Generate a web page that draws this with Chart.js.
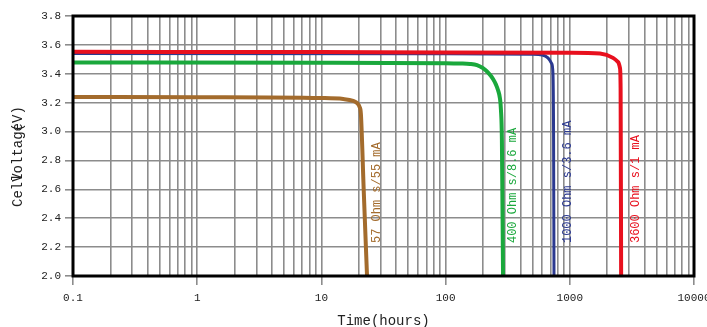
<!DOCTYPE html>
<html lang="en">
<head>
  <meta charset="UTF-8" />
  <title>Cell voltage vs time</title>
  <script src="https://cdn.jsdelivr.net/npm/chart.js"></script>
  <style>
    html, body { margin: 0; padding: 0; background: #fff; }
    #wrap { width: 707px; height: 327px; }
  </style>
</head>
<body>
  <div id="wrap"><canvas id="cellChart"></canvas></div>

  <script>
    // Discharge curves
    const brownX = [0.1, 1, 10, 15, 18, 19.5, 20.3, 20.8, 21.9, 23.3];
    const brownY = [3.24, 3.238, 3.232, 3.225, 3.212, 3.195, 3.17, 3.12, 2.6, 2.0];

    const greenX = [0.1, 10, 100, 131, 157, 179, 200, 219, 241, 255, 264, 274, 279, 284, 290];
    const greenY = [3.478, 3.477, 3.473, 3.471, 3.468, 3.46, 3.439, 3.409, 3.364, 3.323, 3.288, 3.229, 3.15, 2.94, 2.0];

    const blueX = [0.1, 100, 500, 600, 667, 715, 732, 740, 746];
    const blueY = [3.54, 3.538, 3.535, 3.53, 3.51, 3.47, 3.40, 3.0, 2.0];

    const redX = [0.1, 10, 100, 1000, 1750, 2228, 2450, 2535, 2565, 2590];
    const redY = [3.552, 3.55, 3.548, 3.546, 3.54, 3.51, 3.48, 3.44, 3.3, 2.0];

    const curveNames = ['57 Ohm s/55 mA', '400 Ohm s/8.6 mA', '1000 Ohm s/3.6 mA', '3600 Ohm s/1 mA'];
    const curveColors = ['#a36b2c', '#1aa83c', '#2b3990', '#e8101e'];

    // axis ticks
    const xDecades = [0.1, 1, 10, 100, 1000, 10000];
    const xTickLabels = ['0.1', '1', '10', '100', '1000', '10000'];
    const yMin = 2.0, yMax = 3.8, yStep = 0.2;

    const MONO = '"Liberation Mono", "DejaVu Sans Mono", monospace';

    // where each curve name sits (data coords)
    const nameAt = [
      { x: 28, y: 2.228 },
      { x: 349, y: 2.228 },
      { x: 967, y: 2.228 },
      { x: 3413, y: 2.228 }
    ];

    const toPoints = (xs, ys) => xs.map((x, i) => ({ x: x, y: ys[i] }));
    const seriesX = [brownX, greenX, blueX, redX];
    const seriesY = [brownY, greenY, blueY, redY];
    const drawOrder = [3, 2, 1, 0]; // red on top
    const widths = [4, 4, 3, 4];

    const datasets = curveNames.map((name, i) => ({
      label: name,
      data: toPoints(seriesX[i], seriesY[i]),
      borderColor: curveColors[i],
      borderWidth: widths[i],
      pointRadius: 0,
      fill: false,
      cubicInterpolationMode: 'monotone',
      order: drawOrder[i]
    }));

    // all 1..9 x 10^n positions for the log grid
    const xGrid = [];
    xDecades.forEach((d, i) => {
      if (i === xDecades.length - 1) { xGrid.push(d); return; }
      for (let m = 1; m <= 9; m++) xGrid.push(+(d * m).toPrecision(3));
    });
    const isDecade = v => xDecades.some(d => Math.abs(d - v) < 1e-9);

    const framePlugin = {
      id: 'frame',
      afterDraw(chart) {
        const { ctx, chartArea: a, scales } = chart;
        ctx.save();
        // thick black frame
        ctx.strokeStyle = '#000';
        ctx.lineWidth = 3;
        ctx.strokeRect(a.left, a.top, a.right - a.left, a.bottom - a.top);

        // curve names, rotated
        ctx.font = '12px ' + MONO;
        ctx.textBaseline = 'middle';
        ctx.textAlign = 'left';
        nameAt.forEach((p, i) => {
          const px = scales.x.getPixelForValue(p.x);
          const py = scales.y.getPixelForValue(p.y);
          ctx.save();
          ctx.translate(px, py);
          ctx.rotate(-Math.PI / 2);
          ctx.fillStyle = curveColors[i];
          ctx.fillText(curveNames[i], 0, 0);
          ctx.restore();
        });

        // axis titles
        ctx.fillStyle = '#222';
        ctx.font = '14px ' + MONO;
        ctx.textAlign = 'center';
        ctx.fillText('Time(hours)', (a.left + a.right) / 2, 321);

        // y title: pieces overlap as in the original
        ctx.save();
        ctx.translate(18, 207);
        ctx.rotate(-Math.PI / 2);
        ctx.textAlign = 'left';
        const adv = ctx.measureText('M').width;
        ctx.fillText('Cell', 0, 0);
        ctx.fillText('Voltage', adv * 3, 0);
        ctx.fillText('(V)', adv * 9, 0);
        ctx.restore();

        ctx.restore();
      }
    };

    new Chart(document.getElementById('cellChart'), {
      type: 'line',
      data: { datasets: datasets },
      options: {
        responsive: true,
        maintainAspectRatio: false,
        animation: false,
        layout: { padding: { top: 16, right: 13, left: 0, bottom: 0 } },
        plugins: { legend: { display: false }, tooltip: { enabled: false } },
        scales: {
          x: {
            type: 'logarithmic',
            min: 0.1,
            max: 10000,
            afterBuildTicks: s => { s.ticks = xGrid.map(v => ({ value: v, major: isDecade(v) })); },
            afterFit: s => { s.height = 51; s.paddingLeft = 0; s.paddingRight = 0; },
            grid: {
              color: '#8c8c8c',
              lineWidth: 1.6,
              drawTicks: true,
              tickLength: 9,
              tickColor: c => (c.tick && isDecade(c.tick.value)) ? '#8c8c8c' : 'rgba(0,0,0,0)'
            },
            border: { display: false },
            ticks: {
              autoSkip: false,
              maxRotation: 0,
              padding: 6,
              color: '#222',
              font: { family: MONO, size: 11 },
              callback: v => {
                const i = xDecades.findIndex(d => Math.abs(d - v) < 1e-9);
                return i >= 0 ? xTickLabels[i] : '';
              }
            }
          },
          y: {
            min: yMin,
            max: yMax,
            afterFit: s => { s.width = 73; s.paddingTop = 0; s.paddingBottom = 0; },
            grid: { color: '#8c8c8c', lineWidth: 1.6, tickLength: 8, tickColor: '#8c8c8c' },
            border: { display: false },
            ticks: {
              stepSize: yStep,
              padding: 4,
              color: '#222',
              font: { family: MONO, size: 11 },
              callback: v => Number(v).toFixed(1)
            }
          }
        }
      },
      plugins: [framePlugin]
    });
  </script>
</body>
</html>
